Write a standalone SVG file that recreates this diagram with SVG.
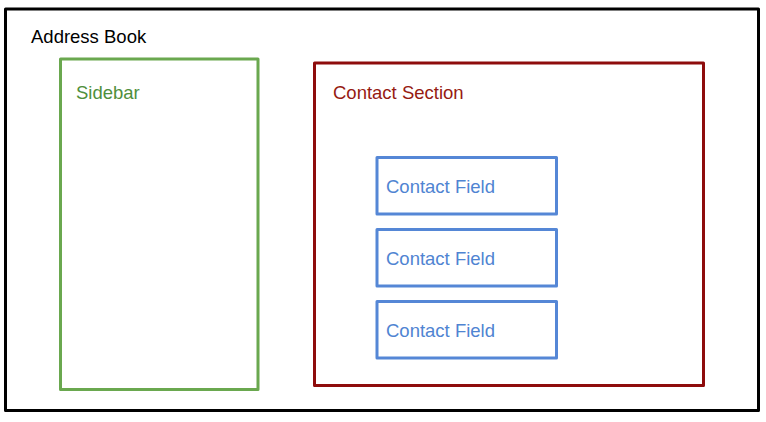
<svg xmlns="http://www.w3.org/2000/svg" width="766" height="422" viewBox="0 0 766 422">
<style>
  text { font-family: "Liberation Sans", Arial, sans-serif; font-size: 18.5px; }
  .box { fill: none; stroke-width: 3; stroke-linejoin: round; }
  .outer { stroke: #000000; }
  .green { stroke: #6aa84f; }
  .red { stroke: #8e0c0c; }
  .blue { stroke: #5587d6; }
  .tblack { fill: #000000; }
  .tgreen { fill: #4f8f3c; }
  .tred { fill: #961a12; }
  .tblue { fill: #4f84d2; }
</style>
<rect x="0" y="0" width="766" height="422" fill="#ffffff"/>
<g id="address-book">
  <rect class="box outer" x="5.5" y="9" width="753" height="401.5"/>
  <text class="tblack" x="31" y="43">Address Book</text>
</g>
<g id="sidebar">
  <rect class="box green" x="60.5" y="59" width="197.5" height="330.5"/>
  <text class="tgreen" x="76" y="99">Sidebar</text>
</g>
<g id="contact-section">
  <rect class="box red" x="314.5" y="63" width="389" height="322.5"/>
  <text class="tred" x="333" y="99">Contact Section</text>
</g>
<g id="contact-field-1">
  <rect class="box blue" x="377" y="157.5" width="179.5" height="56.5"/>
  <text class="tblue" x="386" y="193">Contact Field</text>
</g>
<g id="contact-field-2">
  <rect class="box blue" x="377" y="229.5" width="179.5" height="56.5"/>
  <text class="tblue" x="386" y="265">Contact Field</text>
</g>
<g id="contact-field-3">
  <rect class="box blue" x="377" y="301.5" width="179.5" height="56.5"/>
  <text class="tblue" x="386" y="337">Contact Field</text>
</g>
<g id="connectors"></g>
</svg>
